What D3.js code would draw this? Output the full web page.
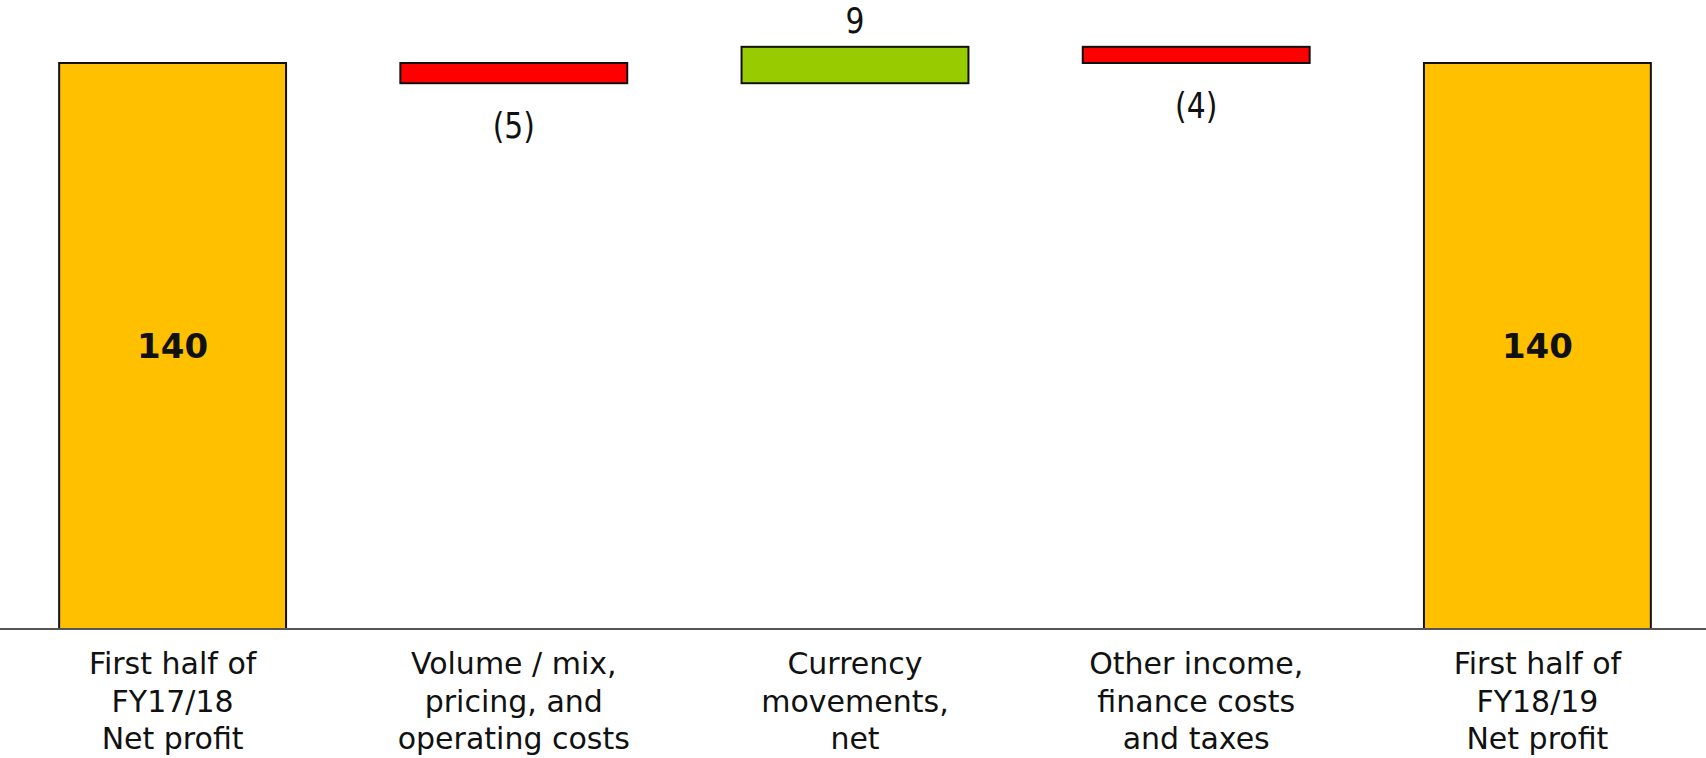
<!DOCTYPE html>
<html>
<head>
<meta charset="utf-8">
<script src="https://cdn.jsdelivr.net/npm/d3@7"></script>
<style>
  html, body { margin: 0; padding: 0; background: #fff; }
  svg { display: block; }
</style>
</head>
<body>
<svg id="chart" width="1706" height="758"></svg>
<script>
// Net profit bridge, first half FY17/18 to first half FY18/19
const categories = [
  "First half of\nFY17/18\nNet profit",
  "Volume / mix,\npricing, and\noperating costs",
  "Currency\nmovements,\nnet",
  "Other income,\nfinance costs\nand taxes",
  "First half of\nFY18/19\nNet profit"
];
const changes = [140, -5, 9, -4, 140];
const kinds = ["total", "delta", "delta", "delta", "total"];
const valueLabels = ["140", "(5)", "9", "(4)", "140"];

const W = 1706, H = 758;
const svg = d3.select("#chart");

// running base/top of each floating bar
let running = 0;
const bars = changes.map((v, i) => {
  let lo, hi;
  if (kinds[i] === "total") { lo = 0; hi = v; running = v; }
  else { const start = running; running += v; lo = Math.min(start, running); hi = Math.max(start, running); }
  return { cat: categories[i], value: v, kind: kinds[i], lo, hi, label: valueLabels[i] };
});

const x = d3.scaleBand().domain(categories).range([2, 1708]).paddingInner(0.335).paddingOuter(0.1675);
const y = d3.scaleLinear().domain([0, 140]).range([629, 63]);

const fill = d => d.kind === "total" ? "#FFC000" : (d.value < 0 ? "#FF0000" : "#99CC00");

svg.selectAll("rect.bar").data(bars).join("rect")
  .attr("class", "bar")
  .attr("x", d => x(d.cat))
  .attr("width", x.bandwidth())
  .attr("y", d => y(d.hi))
  .attr("height", d => y(d.lo) - y(d.hi))
  .attr("fill", fill)
  .attr("stroke", "#111")
  .attr("stroke-width", 2);

// baseline across the full width
svg.append("line")
  .attr("x1", 0).attr("x2", W)
  .attr("y1", y(0)).attr("y2", y(0))
  .attr("stroke", "#555").attr("stroke-width", 2);

// value labels: totals inside the bar, changes above (gain) or below (loss)
const labelY = d => {
  if (d.kind === "total") return (y(d.lo) + y(d.hi)) / 2 + 12;
  if (d.value > 0) return y(d.hi) - 14;
  return y(d.lo) + 55;
};
svg.selectAll("g.val").data(bars).join("g")
  .attr("class", "val")
  .attr("transform", d => `translate(${x(d.cat) + x.bandwidth() / 2},${labelY(d)})` + (d.kind === "total" ? "" : " scale(0.92,1)"))
  .append("text")
  .attr("text-anchor", "middle")
  .attr("font-family", d => d.kind === "total" ? "'DejaVu Sans', sans-serif" : "'DejaVu Sans Condensed', 'DejaVu Sans', sans-serif")
  .attr("font-weight", d => d.kind === "total" ? "bold" : "normal")
  .attr("font-size", d => d.kind === "total" ? 34 : 36)
  .attr("fill", "#111")
  .text(d => d.label);

// category labels under the axis
const catG = svg.selectAll("text.cat").data(categories).join("text")
  .attr("class", "cat")
  .attr("text-anchor", "middle")
  .attr("font-family", "'DejaVu Sans', sans-serif")
  .attr("font-size", 30)
  .attr("fill", "#111");
catG.each(function(c) {
  const lines = c.split("\n");
  d3.select(this).selectAll("tspan").data(lines).join("tspan")
    .attr("x", x(c) + x.bandwidth() / 2)
    .attr("y", (l, i) => 674 + i * 37.5)
    .text(l => l);
});
</script>
</body>
</html>
